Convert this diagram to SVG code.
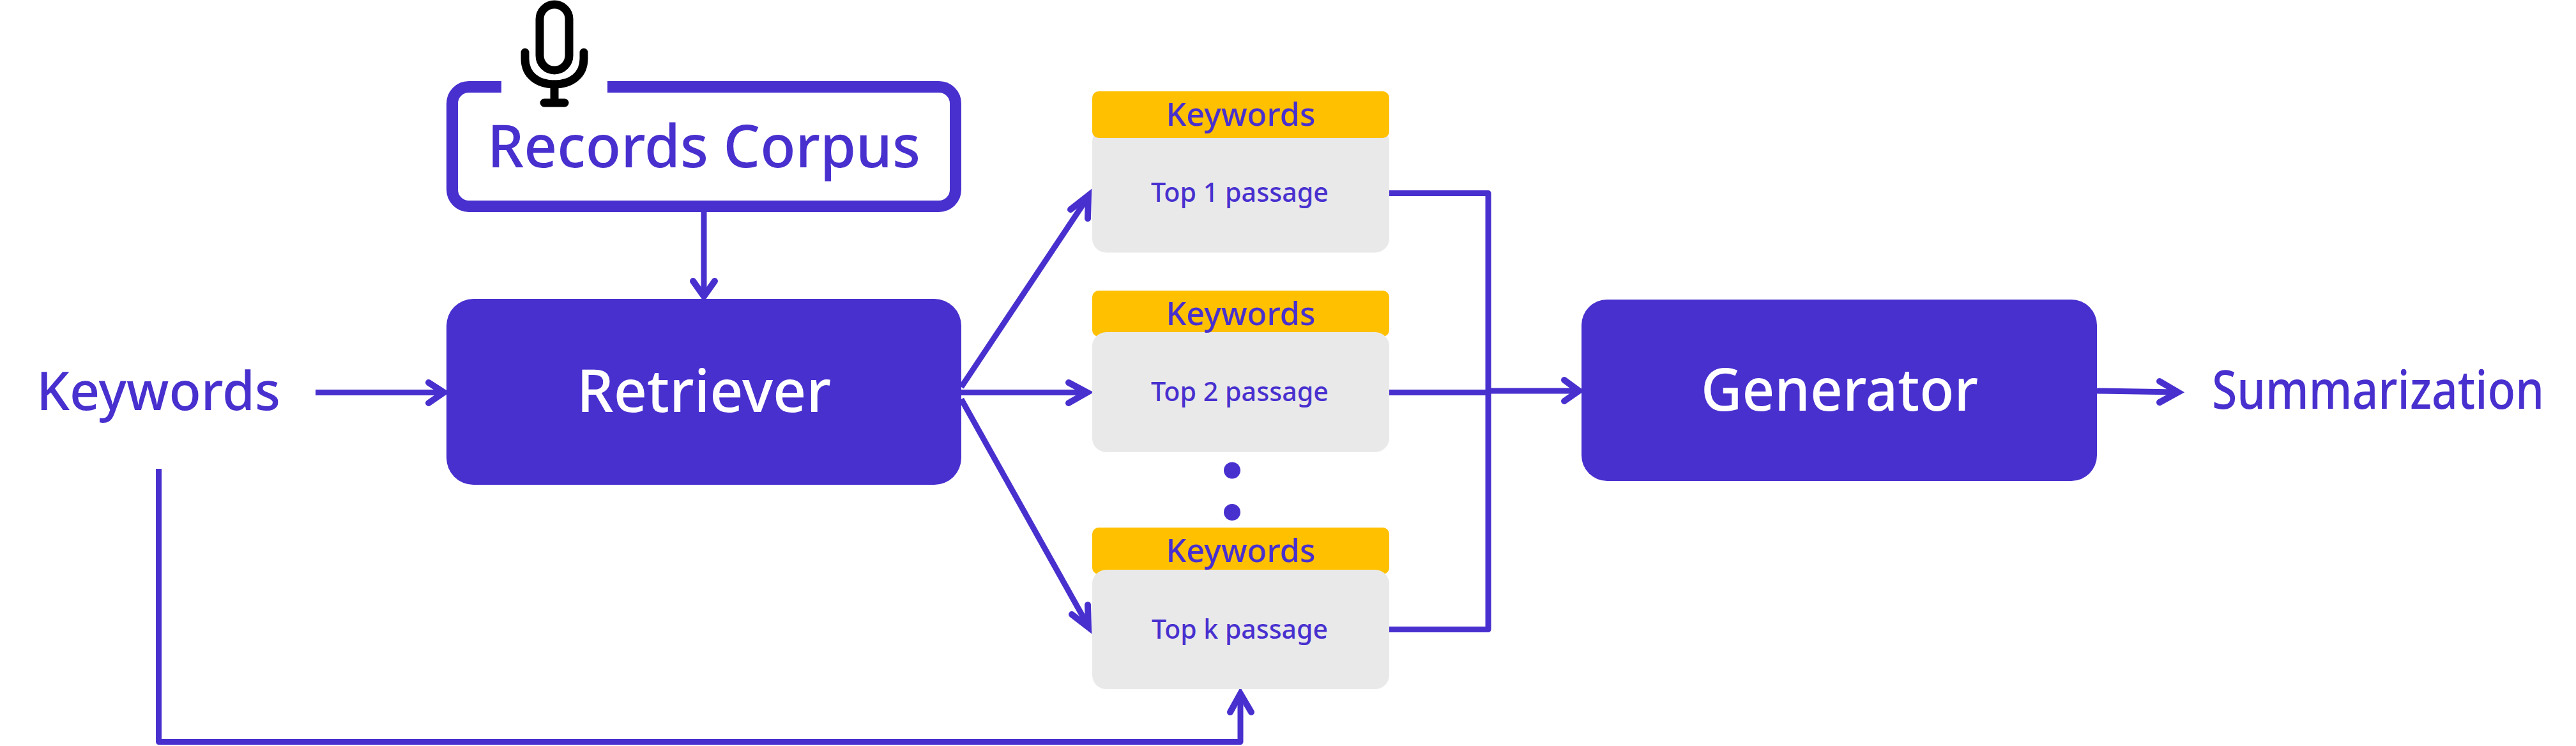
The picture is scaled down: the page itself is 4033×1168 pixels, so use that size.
<svg xmlns="http://www.w3.org/2000/svg" width="4033" height="1168" viewBox="0 0 4033 1168">
<style>
text{font-family:"Noto Sans","Open Sans","Liberation Sans",sans-serif;fill:#4830CF;font-weight:500}
.w{fill:#fff}
.big{font-size:92px}
.lab{font-size:84px}
.kw{font-size:50px}
.top{font-size:41px}
.l{fill:none;stroke:#4830CF;stroke-width:9;stroke-linejoin:round}
.h{fill:none;stroke:#4830CF;stroke-width:10;stroke-linecap:round;stroke-linejoin:miter}
.solid{fill:#4830CF}
.yl{fill:#FFC000}
.gr{fill:#E9E9E9}
.mic{fill:none;stroke:#000;stroke-width:13;stroke-linecap:round}
</style>
<rect width="4033" height="1168" fill="#fff"/>
<g id="connectors">
<path class="l" d="M1102 332V462"/>
<path class="h" d="M1085 440L1102 464L1119 440"/>
<path class="l" d="M494 614.5H692"/>
<path class="h" d="M671 599L695 614.5L671 631"/>
<path class="l" d="M1505 606L1703 309"/>
<path class="h" d="M1676 328L1704 306L1703 342"/>
<path class="l" d="M1505 614.5H1700"/>
<path class="h" d="M1673 599L1702 614.5L1673 631"/>
<path class="l" d="M1505 625L1703 979"/>
<path class="h" d="M1678 962L1704 982L1703 947"/>
<path class="l" d="M2175 302.500H2330V985.500H2175"/>
<path class="l" d="M2175 614.500H2330"/>
<path class="l" d="M2330 612H2470"/>
<path class="h" d="M2449 595L2472 612L2449 628"/>
<path class="l" d="M3283 612L3408 614"/>
<path class="h" d="M3381 597L3410 614L3381 630"/>
<path class="l" d="M248.500 734V1161.500H1942V1090"/>
<path class="h" d="M1926 1115L1942 1086L1959 1115"/>
</g>
<g id="records-corpus">
<rect x="708" y="136" width="788" height="187" rx="26" fill="#fff" stroke="#4830CF" stroke-width="18"/>
<rect x="785" y="120" width="166" height="32" fill="#fff"/>
<text class="big" x="1102" y="262" text-anchor="middle" textLength="678" lengthAdjust="spacingAndGlyphs">Records Corpus</text>
</g>
<g id="microphone">
<rect class="mic" x="845" y="7" width="46" height="103" rx="23"/>
<path class="mic" d="M822 82V92C822 118 842 132 868 132C894 132 914 118 914 92V82"/>
<path class="mic" d="M868 132V160M852 161H884"/>
</g>
<g id="keywords-input">
<text class="lab" x="57" y="642" textLength="382" lengthAdjust="spacingAndGlyphs">Keywords</text>
</g>
<g id="retriever">
<rect class="solid" x="699" y="468" width="806" height="291" rx="42"/>
<text class="big w" x="1102" y="645" text-anchor="middle" textLength="398" lengthAdjust="spacingAndGlyphs">Retriever</text>
</g>
<g id="card-1">
<rect class="gr" x="1710" y="200" width="465" height="195.500" rx="22"/>
<rect class="yl" x="1710" y="143" width="465" height="73" rx="10"/>
<text class="kw" x="1942.500" y="196.500" text-anchor="middle" textLength="234" lengthAdjust="spacingAndGlyphs">Keywords</text>
<text class="top" x="1941" y="316" text-anchor="middle" textLength="278" lengthAdjust="spacingAndGlyphs">Top 1 passage</text>
</g>
<g id="card-2">
<rect class="yl" x="1710" y="455" width="465" height="72" rx="10"/>
<rect class="gr" x="1710" y="520" width="465" height="188" rx="22"/>
<text class="kw" x="1942.500" y="508.500" text-anchor="middle" textLength="234" lengthAdjust="spacingAndGlyphs">Keywords</text>
<text class="top" x="1941" y="628" text-anchor="middle" textLength="278" lengthAdjust="spacingAndGlyphs">Top 2 passage</text>
</g>
<g id="dots">
<circle class="solid" cx="1929" cy="736.500" r="13"/>
<circle class="solid" cx="1929" cy="802" r="13"/>
</g>
<g id="card-k">
<rect class="yl" x="1710" y="826" width="465" height="73" rx="10"/>
<rect class="gr" x="1710" y="892" width="465" height="187" rx="22"/>
<text class="kw" x="1942.500" y="880" text-anchor="middle" textLength="234" lengthAdjust="spacingAndGlyphs">Keywords</text>
<text class="top" x="1941" y="999.500" text-anchor="middle" textLength="276" lengthAdjust="spacingAndGlyphs">Top k passage</text>
</g>
<g id="generator">
<rect class="solid" x="2476" y="469" width="807" height="284" rx="40"/>
<text class="big w" x="2880" y="643" text-anchor="middle" textLength="434" lengthAdjust="spacingAndGlyphs">Generator</text>
</g>
<g id="summarization">
<text class="lab" x="3463" y="640" textLength="520" lengthAdjust="spacingAndGlyphs">Summarization</text>
</g>
</svg>
